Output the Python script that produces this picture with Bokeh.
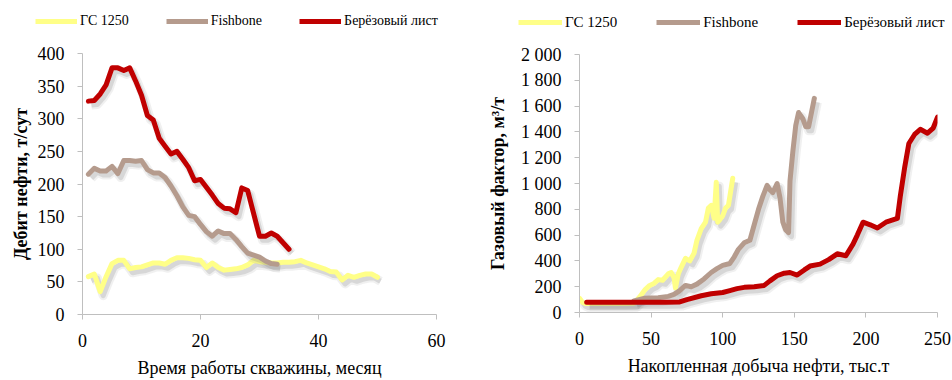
from bokeh.plotting import figure
from bokeh.layouts import row, column
from bokeh.models import Legend, LegendItem, FixedTicker, Range1d
from bokeh.embed import file_html
from bokeh.resources import INLINE

# ---------------- data: left chart (oil rate vs month) ----------------
series_names = ["ГС 1250", "Fishbone", "Берёзовый лист"]
colors = ["#FFFF88", "#B59B8D", "#C00000"]

months_gs = list(range(1, 51))
rate_gs = [58, 62, 35, 58, 78, 83, 83, 70, 72, 73, 76, 79, 79, 77, 83, 87, 87, 86, 84, 83,
           72, 79, 72, 68, 69, 70, 72, 76, 83, 81, 80, 79, 79, 80, 80, 81, 83, 79, 76, 73,
           70, 66, 65, 53, 60, 57, 60, 62, 62, 57]
months_fb = list(range(1, 34))
rate_fb = [215, 224, 220, 220, 227, 216, 236, 236, 235, 236, 222, 217, 217, 210, 197, 182,
           165, 152, 150, 138, 127, 120, 128, 124, 124, 115, 104, 94, 91, 88, 82, 78, 77]
months_bl = list(range(1, 36))
rate_bl = [327, 328, 338, 352, 378, 378, 374, 378, 358, 336, 305, 298, 270, 258, 246, 250,
           238, 225, 205, 207, 195, 183, 170, 163, 162, 156, 194, 190, 155, 120, 120, 125,
           120, 110, 100]

# ---------------- data: right chart (GOR vs cumulative oil) ----------------
cum_gs = [0, 2, 4, 10, 20, 30, 38, 42, 46, 49, 52, 55, 58, 62, 64, 66, 67, 69, 71, 74, 77,
          80, 82, 85, 88, 90, 92, 94, 95.5, 96.5, 98, 100, 102, 104, 107]
gor_gs = [110, 80, 70, 70, 70, 70, 72, 120, 180, 210, 225, 255, 250, 300, 310, 270, 190, 300,
          350, 420, 400, 460, 560, 650, 700, 810, 830, 730, 1010, 700, 720, 750, 810, 830, 1040]
cum_fb = [38, 45, 55, 62, 66, 70, 74, 78, 82, 87, 92, 96, 100, 105, 108, 111, 115, 119, 122,
          125, 128, 131, 133, 135, 138, 140, 142, 144, 146, 147, 149, 151, 153, 156, 158, 160,
          162, 164]
gor_fb = [90, 110, 115, 125, 140, 170, 210, 200, 220, 260, 310, 340, 365, 380, 430, 490, 540,
          560, 680, 800, 900, 985, 950, 930, 1000, 890, 700, 640, 620, 1020, 1250, 1450, 1550,
          1500, 1440, 1440, 1550, 1660]
cum_bl = [5, 20, 40, 60, 70, 75, 85, 92, 100, 105, 110, 115, 122, 129, 133, 138, 143, 147,
          152, 157, 161, 168, 174, 180, 186, 191, 194, 198, 203, 208, 214, 222, 224, 227, 230,
          234, 238, 243, 247, 250]
gor_bl = [80, 80, 80, 80, 82, 100, 130, 145, 155, 170, 185, 195, 200, 210, 245, 285, 305, 310,
          290, 330, 360, 375, 410, 455, 440, 530, 600, 700, 680, 655, 700, 730, 900, 1120, 1310,
          1380, 1420, 1390, 1430, 1515]

left_xticks = [0, 20, 40, 60]
left_yticks = [0, 50, 100, 150, 200, 250, 300, 350, 400]
right_xticks = [0, 50, 100, 150, 200, 250]
right_yticks = [0, 200, 400, 600, 800, 1000, 1200, 1400, 1600, 1800, 2000]
right_ylabels = ["0", "200", "400", "600", "800", "1 000", "1 200", "1 400", "1 600",
                 "1 800", "2 000"]

AXIS_GRAY = "#BFBFBF"
FONT = "Liberation Serif"
TOTAL_H = 380
NAN = float("nan")


def make_fig(width, height, bl, br, bt, bb, xr, yr, xticks, yticks, xlabel, ylabel,
             ylabel_standoff):
    p = figure(width=width, height=height, x_range=Range1d(*xr), y_range=Range1d(*yr),
               output_backend="svg", toolbar_location=None,
               min_border_left=bl, min_border_right=br, min_border_top=bt,
               min_border_bottom=bb, frame_align=False)
    p.grid.visible = False
    p.outline_line_color = None
    p.xaxis.ticker = FixedTicker(ticks=xticks)
    p.yaxis.ticker = FixedTicker(ticks=yticks)
    for ax in (p.xaxis[0], p.yaxis[0]):
        ax.axis_line_color = AXIS_GRAY
        ax.major_tick_line_color = AXIS_GRAY
        ax.minor_tick_line_color = None
        ax.major_tick_in = 0
        ax.major_tick_out = 5
        ax.major_label_text_font = FONT
        ax.major_label_text_font_size = "18px"
        ax.major_label_text_color = "#000000"
        ax.axis_label_text_font = FONT
        ax.axis_label_text_font_size = "18px"
        ax.axis_label_text_color = "#000000"
    p.xaxis.axis_label = xlabel
    p.xaxis.axis_label_text_font_style = "normal"
    p.xaxis.major_label_standoff = 14
    p.xaxis.axis_label_standoff = 8
    p.yaxis.axis_label = ylabel
    p.yaxis.axis_label_text_font_style = "bold"
    p.yaxis.major_label_standoff = 13
    p.yaxis.axis_label_standoff = ylabel_standoff
    return p


def draw(p, xs, ys, color, px_x, px_y):
    # soft drop shadow, offset a few pixels right/down
    dx = 3 * px_x
    dy = -4 * px_y
    sx = [x + dx for x in xs]
    sy = [y + dy for y in ys]
    p.line(sx, sy, line_color="#808080", line_alpha=0.12, line_width=9, line_join="round")
    p.line(sx, sy, line_color="#808080", line_alpha=0.22, line_width=5, line_join="round")
    return p.line(xs, ys, line_color=color, line_width=5, line_join="round", line_cap="round")


def legend_fig(width, height, loc, gw, spacing, fs):
    lf = figure(width=width, height=height, x_range=Range1d(0, 1), y_range=Range1d(0, 1),
                x_axis_type=None, y_axis_type=None, output_backend="svg",
                toolbar_location=None, min_border=0, frame_align=False)
    lf.grid.visible = False
    lf.outline_line_color = None
    # placeholder renderers (no visible points) that carry the legend styling
    rs = [lf.line([NAN], [NAN], line_color=c, line_width=5) for c in colors]
    items = [LegendItem(label=n, renderers=[r]) for n, r in zip(series_names, rs)]
    lg = Legend(items=items, orientation="horizontal", location=loc,
                glyph_width=gw, glyph_height=20, label_standoff=3, spacing=spacing,
                padding=0, margin=0, border_line_color=None, background_fill_alpha=0,
                label_text_font=FONT, label_text_font_size=fs,
                label_text_color="#000000")
    lf.add_layout(lg)
    return lf


# ---------------- left figure ----------------
LW = 468
L_LEG_H = 43
LH = TOTAL_H - L_LEG_H
lf_w, lf_h = 354, 262
p1 = make_fig(LW, LH, 82, LW - 82 - lf_w, 10, LH - 10 - lf_h, (0, 60), (0, 400),
              left_xticks, left_yticks,
              "Время работы скважины, месяц", "Дебит нефти, т/сут", 4)
ppx, ppy = 60 / lf_w, 400 / lf_h
draw(p1, months_gs, rate_gs, colors[0], ppx, ppy)
draw(p1, months_fb, rate_fb, colors[1], ppx, ppy)
draw(p1, months_bl, rate_bl, colors[2], ppx, ppy)
leg1 = legend_fig(LW, L_LEG_H, (35, 12), 42, 37, "14px")

# ---------------- right figure ----------------
RW = 484
R_LEG_H = 44
RH = TOTAL_H - R_LEG_H
rf_w, rf_h = 358, 258
p2 = make_fig(RW, RH, 111, RW - 111 - rf_w, 10, RH - 10 - rf_h, (0, 250), (0, 2000),
              right_xticks, right_yticks,
              "Накопленная добыча нефти, тыс.т", "Газовый фактор, м³/т", 10)
p2.yaxis.major_label_overrides = {t: l for t, l in zip(right_yticks, right_ylabels)}
qpx, qpy = 250 / rf_w, 2000 / rf_h
draw(p2, cum_gs, gor_gs, colors[0], qpx, qpy)
draw(p2, cum_fb, gor_fb, colors[1], qpx, qpy)
draw(p2, cum_bl, gor_bl, colors[2], qpx, qpy)
leg2 = legend_fig(RW, R_LEG_H, (50, 12), 44, 39, "15px")

layout = row(column(leg1, p1, spacing=0), column(leg2, p2, spacing=0), spacing=0)
open("out.html", "w").write(file_html(layout, INLINE))
